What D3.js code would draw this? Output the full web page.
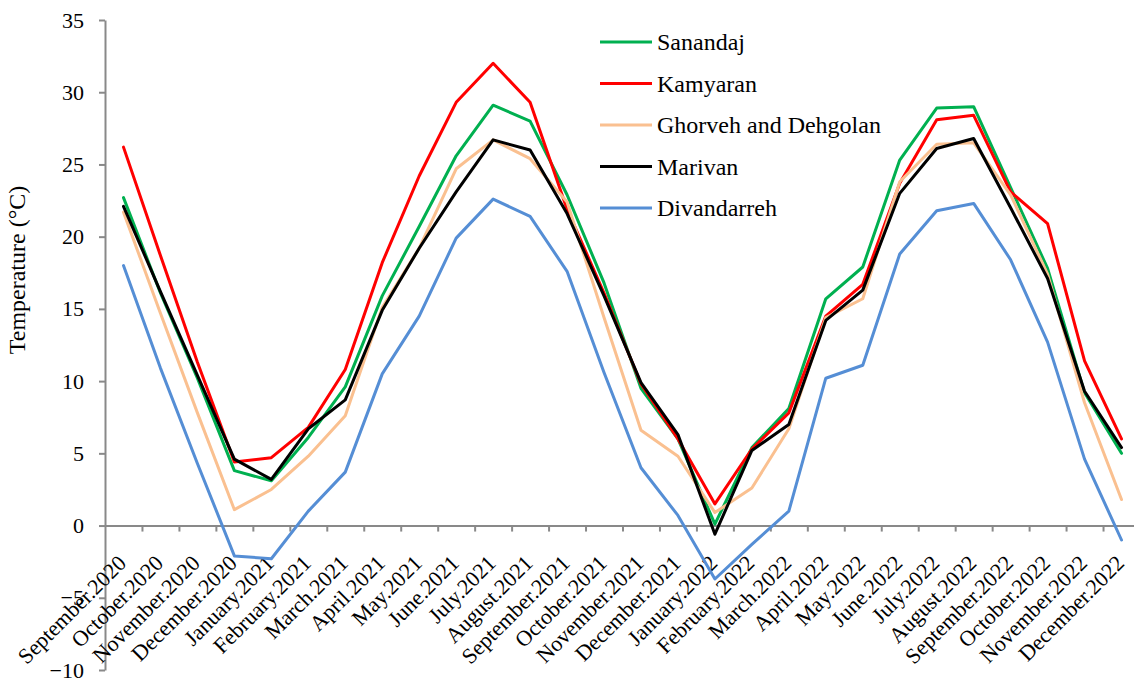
<!DOCTYPE html>
<html>
<head>
<meta charset="utf-8">
<script src="https://cdn.jsdelivr.net/npm/d3@7"></script>
<style>
  html, body { margin: 0; padding: 0; background: #ffffff; }
  svg { display: block; font-family: "Liberation Serif", "Times New Roman", serif; }
</style>
</head>
<body>
<svg id="chart" width="1134" height="684"></svg>
<script>
const months = ["September.2020","October.2020","November.2020","December.2020","January.2021","February.2021","March.2021","April.2021","May.2021","June.2021","July.2021","August.2021","September.2021","October.2021","November.2021","December.2021","January.2022","February.2022","March.2022","April.2022","May.2022","June.2022","July.2022","August.2022","September.2022","October.2022","November.2022","December.2022"];

const sanandaj    = [22.7, 16.1, 10.2, 3.8, 3.1, 6.1, 9.6, 15.9, 20.7, 25.6, 29.1, 28.0, 22.9, 16.8, 9.5, 6.0, 0.1, 5.4, 8.1, 15.7, 17.9, 25.3, 28.9, 29.0, 23.4, 17.8, 9.2, 5.0];
const kamyaran    = [26.2, 18.7, 11.3, 4.4, 4.7, 6.8, 10.8, 18.2, 24.2, 29.3, 32.0, 29.3, 21.9, 16.1, 9.8, 6.0, 1.5, 5.3, 7.8, 14.5, 16.7, 23.7, 28.1, 28.4, 23.1, 20.9, 11.4, 6.0];
const ghorveh     = [21.7, 14.7, 7.8, 1.1, 2.5, 4.8, 7.6, 15.1, 19.2, 24.7, 26.7, 25.4, 22.4, 14.4, 6.6, 4.8, 0.9, 2.6, 6.7, 14.4, 15.7, 23.8, 26.4, 26.5, 22.9, 17.4, 8.5, 1.8];
const marivan     = [22.1, 16.2, 10.4, 4.6, 3.2, 6.7, 8.7, 14.9, 19.2, 23.1, 26.7, 26.0, 21.6, 15.9, 9.9, 6.3, -0.6, 5.2, 7.0, 14.2, 16.3, 23.0, 26.1, 26.8, 22.0, 17.1, 9.3, 5.4];
const divandarreh = [18.0, 10.9, 4.3, -2.1, -2.3, 1.0, 3.7, 10.5, 14.5, 19.9, 22.6, 21.4, 17.6, 10.6, 4.0, 0.7, -3.7, -1.3, 1.0, 10.2, 11.1, 18.8, 21.8, 22.3, 18.4, 12.7, 4.6, -1.0];

const seriesNames  = ["Sanandaj", "Kamyaran", "Ghorveh and Dehgolan", "Marivan", "Divandarreh"];
const seriesColors = ["#00B050", "#FF0000", "#FAC090", "#000000", "#558ED5"];
const seriesValues = [sanandaj, kamyaran, ghorveh, marivan, divandarreh];

const yTicks = [-10, -5, 0, 5, 10, 15, 20, 25, 30, 35];
const yTitle = "Temperature (°C)";

const svg = d3.select("#chart");
const mLeft = 105, mRight = 1140, mTop = 20, mBottom = 670;
const axisColor = "#898989";

const x = d3.scaleBand().domain(months).range([mLeft, mRight]).padding(0);
const xEdge = d3.scaleLinear().domain([0, months.length]).range([mLeft, mRight]);
const y = d3.scaleLinear().domain([-10, 35]).range([mBottom, mTop]);

// Y axis
const yAxis = svg.append("g")
  .attr("transform", `translate(${mLeft},0)`)
  .call(d3.axisLeft(y).tickValues(yTicks).tickSize(6).tickPadding(15).tickSizeOuter(0));
yAxis.select(".domain").attr("stroke", axisColor).attr("stroke-width", 2);
yAxis.selectAll(".tick line").attr("stroke", axisColor).attr("stroke-width", 2);
yAxis.selectAll(".tick text")
  .attr("fill", "#000").attr("font-size", 22)
  .attr("font-family", "Liberation Serif, serif");

// X axis at y=0
const xAxis = svg.append("g")
  .attr("transform", `translate(0,${y(0)})`)
  .call(d3.axisBottom(xEdge).tickValues(d3.range(1, months.length + 1)).tickSize(6).tickFormat("").tickSizeOuter(0));
xAxis.select(".domain").attr("stroke", axisColor).attr("stroke-width", 2);
xAxis.selectAll(".tick line").attr("stroke", axisColor).attr("stroke-width", 2);

// X labels
svg.append("g").selectAll("text")
  .data(months)
  .join("text")
  .attr("transform", d => `translate(${x(d) + x.bandwidth() / 2 + 4},${y(0) + 39}) rotate(-45)`)
  .attr("text-anchor", "end")
  .attr("font-size", 22)
  .attr("fill", "#000")
  .text(d => d);

// Y title
svg.append("text")
  .attr("transform", `translate(25,${(mTop + mBottom) / 2 - 75}) rotate(-90)`)
  .attr("text-anchor", "middle")
  .attr("font-size", 24)
  .attr("fill", "#000")
  .text(yTitle);

// Lines
const line = d3.line()
  .x((d, i) => x(months[i]) + x.bandwidth() / 2)
  .y(d => y(d));

svg.append("g").selectAll("path")
  .data(seriesValues)
  .join("path")
  .attr("d", d => line(d))
  .attr("fill", "none")
  .attr("stroke", (d, i) => seriesColors[i])
  .attr("stroke-width", 3)
  .attr("stroke-linejoin", "round")
  .attr("stroke-linecap", "round");

// Legend
const legend = svg.append("g");
const legY = d3.scaleLinear().domain([0, 4]).range([42, 208]);
seriesNames.forEach((name, i) => {
  legend.append("line")
    .attr("x1", 600).attr("x2", 652)
    .attr("y1", legY(i)).attr("y2", legY(i))
    .attr("stroke", seriesColors[i]).attr("stroke-width", 3);
  legend.append("text")
    .attr("x", 657).attr("y", legY(i))
    .attr("dy", "0.35em")
    .attr("font-size", 24)
    .attr("fill", "#000")
    .text(name);
});
</script>
</body>
</html>
